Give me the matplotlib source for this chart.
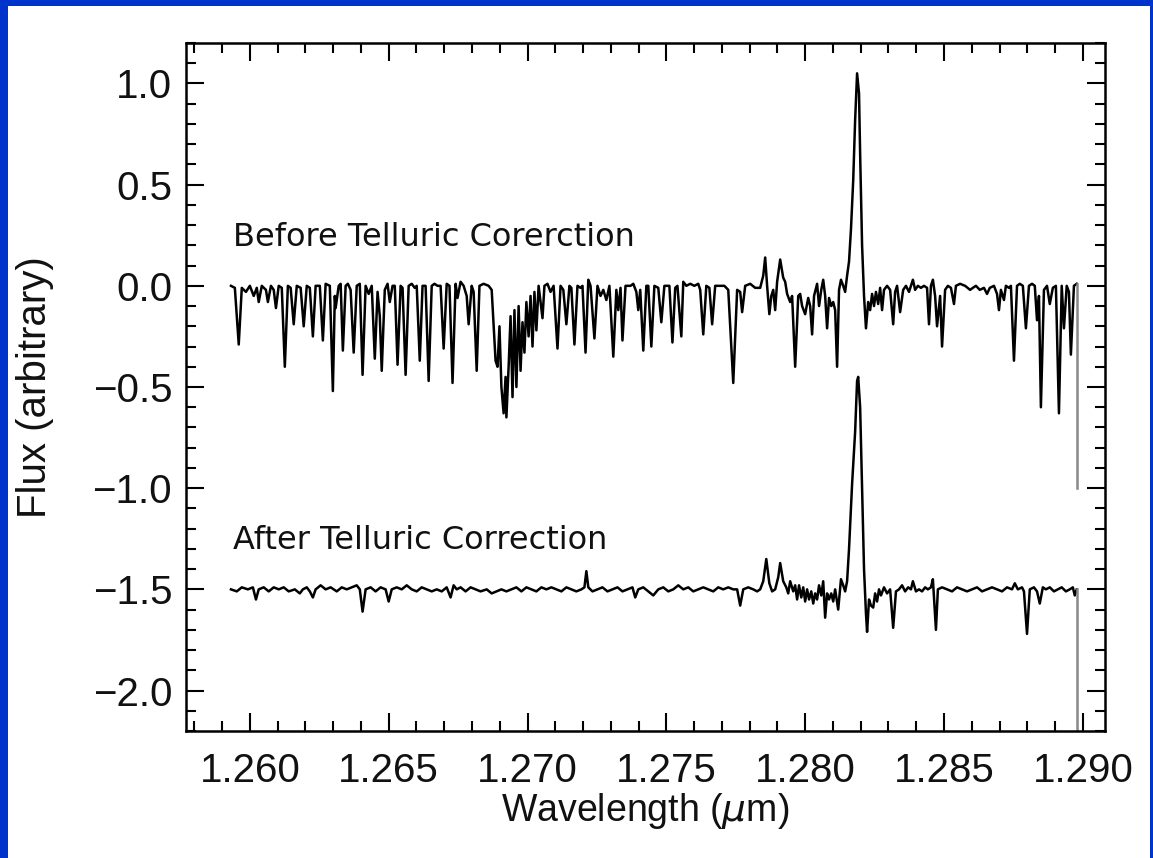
import matplotlib
matplotlib.use('Agg')
import matplotlib.pyplot as plt
from matplotlib.patches import Rectangle
from matplotlib.ticker import MultipleLocator

# spectrum before telluric correction (wavelength in micron, flux)
wl_before = [
    1.25932, 1.25946, 1.25960, 1.25971, 1.25986, 1.26000, 1.26014, 1.26025, 1.26032, 1.26043,
    1.26058, 1.26065, 1.26076, 1.26086, 1.26094, 1.26104, 1.26115, 1.26126, 1.26137, 1.26147,
    1.26158, 1.26169, 1.26183, 1.26194, 1.26205, 1.26216, 1.26227, 1.26237, 1.26252, 1.26263,
    1.26273, 1.26288, 1.26299, 1.26306, 1.26309, 1.26320, 1.26327, 1.26335, 1.26345, 1.26353,
    1.26363, 1.26374, 1.26385, 1.26396, 1.26406, 1.26417, 1.26428, 1.26439, 1.26450, 1.26460,
    1.26468, 1.26475, 1.26486, 1.26496, 1.26504, 1.26514, 1.26522, 1.26532, 1.26543, 1.26550,
    1.26561, 1.26572, 1.26583, 1.26594, 1.26601, 1.26612, 1.26622, 1.26633, 1.26644, 1.26655,
    1.26665, 1.26676, 1.26687, 1.26698, 1.26709, 1.26719, 1.26730, 1.26741, 1.26748, 1.26759,
    1.26770, 1.26781, 1.26788, 1.26799, 1.26806, 1.26817, 1.26827, 1.26842, 1.26860, 1.26871,
    1.26878, 1.26885, 1.26892, 1.26899, 1.26906, 1.26914, 1.26921, 1.26924, 1.26932, 1.26939,
    1.26946, 1.26953, 1.26960, 1.26968, 1.26975, 1.26982, 1.26989, 1.26996, 1.27004, 1.27011,
    1.27018, 1.27025, 1.27032, 1.27040, 1.27047, 1.27054, 1.27061, 1.27072, 1.27083, 1.27094,
    1.27108, 1.27119, 1.27129, 1.27140, 1.27151, 1.27158, 1.27169, 1.27180, 1.27191, 1.27198,
    1.27209, 1.27219, 1.27227, 1.27241, 1.27252, 1.27263, 1.27273, 1.27284, 1.27295, 1.27309,
    1.27320, 1.27327, 1.27335, 1.27342, 1.27353, 1.27371, 1.27381, 1.27392, 1.27399, 1.27406,
    1.27417, 1.27428, 1.27435, 1.27446, 1.27457, 1.27471, 1.27482, 1.27493, 1.27504, 1.27511,
    1.27522, 1.27532, 1.27540, 1.27554, 1.27561, 1.27572, 1.27586, 1.27601, 1.27615, 1.27622,
    1.27633, 1.27644, 1.27655, 1.27665, 1.27676, 1.27694, 1.27709, 1.27723, 1.27741, 1.27755,
    1.27766, 1.27773, 1.27784, 1.27802, 1.27820, 1.27838, 1.27849, 1.27856, 1.27863, 1.27871,
    1.27878, 1.27885, 1.27892, 1.27899, 1.27910, 1.27921, 1.27928, 1.27935, 1.27946, 1.27953,
    1.27964, 1.27975, 1.27982, 1.27989, 1.28000, 1.28011, 1.28018, 1.28025, 1.28032, 1.28043,
    1.28050, 1.28058, 1.28065, 1.28072, 1.28079, 1.28086, 1.28094, 1.28101, 1.28108, 1.28115,
    1.28122, 1.28129, 1.28137, 1.28144, 1.28151, 1.28158, 1.28165, 1.28173, 1.28180, 1.28187,
    1.28194, 1.28198, 1.28205, 1.28212, 1.28219, 1.28227, 1.28234, 1.28241, 1.28248, 1.28255,
    1.28263, 1.28270, 1.28277, 1.28284, 1.28295, 1.28306, 1.28317, 1.28324, 1.28331, 1.28342,
    1.28353, 1.28363, 1.28374, 1.28381, 1.28388, 1.28396, 1.28406, 1.28417, 1.28428, 1.28439,
    1.28446, 1.28453, 1.28460, 1.28468, 1.28475, 1.28486, 1.28493, 1.28504, 1.28514, 1.28525,
    1.28536, 1.28543, 1.28558, 1.28576, 1.28594, 1.28604, 1.28615, 1.28629, 1.28644, 1.28655,
    1.28665, 1.28680, 1.28691, 1.28698, 1.28705, 1.28716, 1.28723, 1.28734, 1.28741, 1.28752,
    1.28763, 1.28773, 1.28784, 1.28795, 1.28806, 1.28817, 1.28827, 1.28835, 1.28842, 1.28849,
    1.28860, 1.28871, 1.28881, 1.28892, 1.28903, 1.28914, 1.28924, 1.28932, 1.28942, 1.28950,
    1.28957, 1.28968, 1.28978,
]
flux_before = [
    0.00, -0.01, -0.29, -0.01, -0.03, 0.00, -0.05, -0.01, -0.08, 0.00,
    -0.02, -0.08, 0.00, -0.02, -0.11, 0.00, -0.01, -0.40, 0.00, -0.01,
    -0.19, 0.00, -0.01, -0.20, 0.00, -0.01, -0.25, 0.00, 0.00, -0.27,
    0.01, 0.00, -0.52, -0.05, -0.11, 0.00, 0.01, -0.32, 0.00, 0.01,
    -0.02, -0.33, 0.00, 0.01, -0.44, 0.00, -0.04, 0.00, -0.36, -0.03,
    -0.15, -0.42, -0.02, 0.01, -0.08, 0.00, 0.00, -0.39, 0.00, -0.01,
    -0.44, 0.00, 0.01, -0.01, 0.00, -0.37, 0.00, 0.00, -0.47, 0.00,
    0.01, 0.00, 0.00, -0.31, 0.01, 0.00, -0.48, 0.01, -0.06, 0.02,
    0.00, -0.05, -0.19, 0.00, -0.03, -0.42, 0.00, 0.01, 0.00, -0.02,
    -0.20, -0.37, -0.40, -0.20, -0.50, -0.63, -0.45, -0.65, -0.40, -0.15,
    -0.55, -0.12, -0.50, -0.10, -0.42, -0.18, -0.33, -0.08, -0.25, -0.05,
    -0.30, -0.03, -0.22, 0.00, -0.08, -0.16, 0.00, 0.01, -0.03, 0.00,
    -0.31, 0.00, -0.02, -0.19, 0.00, -0.01, -0.29, 0.00, -0.01, 0.00,
    -0.33, 0.03, 0.00, -0.26, 0.00, -0.05, -0.02, -0.07, 0.00, -0.35,
    -0.02, -0.12, -0.01, -0.27, 0.00, 0.00, 0.01, -0.03, -0.12, -0.02,
    -0.32, 0.00, 0.00, -0.30, 0.00, -0.01, -0.18, 0.00, 0.00, 0.00,
    -0.28, -0.01, 0.00, -0.25, 0.02, 0.00, 0.01, 0.00, 0.01, -0.02,
    -0.24, 0.00, -0.01, -0.19, 0.00, 0.00, 0.00, -0.02, -0.48, -0.02,
    -0.03, -0.13, 0.00, 0.01, -0.01, -0.01, 0.05, 0.14, 0.00, -0.14,
    -0.05, -0.02, -0.12, 0.02, 0.13, 0.04, 0.02, -0.04, -0.08, -0.05,
    -0.40, -0.05, -0.04, -0.10, -0.14, -0.06, -0.10, -0.24, -0.05, 0.01,
    -0.10, -0.02, 0.03, -0.05, -0.21, -0.06, -0.10, -0.08, -0.12, -0.40,
    -0.02, 0.03, 0.00, -0.03, 0.05, 0.12, 0.28, 0.52, 0.82, 1.05,
    0.95, 0.65, 0.20, -0.05, -0.21, -0.08, -0.12, -0.04, -0.10, -0.03,
    -0.09, -0.01, -0.12, -0.02, 0.00, -0.02, -0.19, -0.03, 0.00, -0.13,
    -0.02, 0.00, -0.03, 0.00, 0.03, -0.02, 0.00, -0.01, 0.00, -0.01,
    -0.19, 0.00, 0.03, -0.05, -0.20, -0.05, -0.30, -0.02, 0.00, -0.01,
    -0.09, 0.00, 0.01, 0.00, -0.02, -0.01, 0.00, -0.02, -0.01, -0.04,
    -0.01, 0.00, -0.04, -0.12, -0.02, -0.07, 0.00, -0.01, 0.00, -0.37,
    0.00, 0.01, 0.00, -0.21, 0.00, 0.01, 0.00, -0.17, -0.05, -0.60,
    -0.02, 0.00, -0.09, -0.01, 0.00, -0.63, 0.00, -0.21, 0.00, -0.03,
    -0.34, 0.00, 0.01,
]
# last column of the "before" spectrum (drawn gray)
wl_before_end = [1.28978, 1.28978]
flux_before_end = [0.01, -1.00]

# spectrum after telluric correction
wl_after = [
    1.25932, 1.25953, 1.25971, 1.25993, 1.26011, 1.26022, 1.26032, 1.26050, 1.26068, 1.26086,
    1.26104, 1.26122, 1.26140, 1.26162, 1.26180, 1.26191, 1.26205, 1.26216, 1.26227, 1.26237,
    1.26255, 1.26273, 1.26291, 1.26313, 1.26331, 1.26349, 1.26367, 1.26385, 1.26396, 1.26406,
    1.26417, 1.26435, 1.26453, 1.26471, 1.26489, 1.26500, 1.26511, 1.26529, 1.26547, 1.26565,
    1.26583, 1.26601, 1.26619, 1.26637, 1.26655, 1.26673, 1.26691, 1.26709, 1.26723, 1.26734,
    1.26745, 1.26759, 1.26777, 1.26795, 1.26813, 1.26831, 1.26853, 1.26871, 1.26888, 1.26906,
    1.26924, 1.26942, 1.26960, 1.26978, 1.26996, 1.27014, 1.27032, 1.27050, 1.27068, 1.27086,
    1.27104, 1.27122, 1.27140, 1.27158, 1.27176, 1.27194, 1.27205, 1.27212, 1.27219, 1.27234,
    1.27252, 1.27270, 1.27288, 1.27306, 1.27324, 1.27342, 1.27360, 1.27378, 1.27388, 1.27399,
    1.27417, 1.27435, 1.27453, 1.27471, 1.27489, 1.27507, 1.27525, 1.27543, 1.27561, 1.27579,
    1.27597, 1.27615, 1.27633, 1.27651, 1.27669, 1.27687, 1.27705, 1.27723, 1.27741, 1.27755,
    1.27766, 1.27777, 1.27795, 1.27813, 1.27827, 1.27838, 1.27849, 1.27860, 1.27871, 1.27881,
    1.27892, 1.27903, 1.27910, 1.27921, 1.27932, 1.27939, 1.27946, 1.27957, 1.27964, 1.27971,
    1.27978, 1.27986, 1.27993, 1.28000, 1.28007, 1.28014, 1.28022, 1.28029, 1.28036, 1.28043,
    1.28050, 1.28058, 1.28065, 1.28072, 1.28079, 1.28086, 1.28094, 1.28101, 1.28108, 1.28119,
    1.28129, 1.28137, 1.28144, 1.28151, 1.28158, 1.28169, 1.28180, 1.28187, 1.28191, 1.28198,
    1.28205, 1.28212, 1.28219, 1.28223, 1.28230, 1.28237, 1.28245, 1.28252, 1.28259, 1.28266,
    1.28273, 1.28284, 1.28295, 1.28306, 1.28317, 1.28327, 1.28338, 1.28349, 1.28360, 1.28371,
    1.28381, 1.28388, 1.28399, 1.28410, 1.28421, 1.28432, 1.28442, 1.28453, 1.28460, 1.28471,
    1.28478, 1.28493, 1.28511, 1.28529, 1.28547, 1.28565, 1.28583, 1.28601, 1.28619, 1.28637,
    1.28655, 1.28673, 1.28691, 1.28709, 1.28727, 1.28745, 1.28755, 1.28766, 1.28781, 1.28788,
    1.28799, 1.28809, 1.28824, 1.28835, 1.28845, 1.28856, 1.28867, 1.28881, 1.28896, 1.28910,
    1.28924, 1.28939, 1.28953, 1.28964, 1.28971, 1.28978,
]
flux_after = [
    -1.50, -1.51, -1.49, -1.50, -1.49, -1.55, -1.50, -1.49, -1.51, -1.49,
    -1.50, -1.49, -1.51, -1.50, -1.52, -1.50, -1.49, -1.51, -1.54, -1.50,
    -1.48, -1.50, -1.49, -1.51, -1.49, -1.50, -1.49, -1.48, -1.50, -1.61,
    -1.50, -1.49, -1.51, -1.49, -1.50, -1.56, -1.50, -1.49, -1.50, -1.48,
    -1.50, -1.51, -1.49, -1.50, -1.51, -1.50, -1.51, -1.49, -1.54, -1.48,
    -1.50, -1.49, -1.51, -1.49, -1.50, -1.51, -1.50, -1.52, -1.51, -1.50,
    -1.51, -1.50, -1.49, -1.51, -1.49, -1.50, -1.51, -1.49, -1.50, -1.49,
    -1.50, -1.51, -1.49, -1.50, -1.51, -1.50, -1.49, -1.41, -1.49, -1.51,
    -1.50, -1.49, -1.51, -1.50, -1.49, -1.51, -1.50, -1.49, -1.54, -1.50,
    -1.49, -1.51, -1.53, -1.50, -1.49, -1.51, -1.50, -1.48, -1.50, -1.49,
    -1.51, -1.50, -1.49, -1.50, -1.51, -1.49, -1.50, -1.49, -1.50, -1.50,
    -1.58, -1.50, -1.49, -1.50, -1.51, -1.50, -1.46, -1.35, -1.47, -1.51,
    -1.50, -1.44, -1.37, -1.46, -1.49, -1.52, -1.46, -1.51, -1.48, -1.55,
    -1.48, -1.54, -1.49, -1.56, -1.50, -1.55, -1.51, -1.57, -1.52, -1.55,
    -1.48, -1.53, -1.46, -1.64, -1.52, -1.55, -1.52, -1.56, -1.50, -1.60,
    -1.45, -1.48, -1.51, -1.46, -1.30, -0.98, -0.72, -0.47, -0.45, -0.60,
    -1.00, -1.40, -1.62, -1.71, -1.55, -1.58, -1.59, -1.52, -1.56, -1.50,
    -1.53, -1.49, -1.52, -1.50, -1.69, -1.51, -1.50, -1.48, -1.51, -1.49,
    -1.50, -1.46, -1.51, -1.50, -1.51, -1.49, -1.50, -1.49, -1.45, -1.70,
    -1.50, -1.49, -1.50, -1.51, -1.49, -1.50, -1.51, -1.50, -1.49, -1.51,
    -1.50, -1.49, -1.50, -1.51, -1.49, -1.50, -1.47, -1.50, -1.49, -1.51,
    -1.72, -1.50, -1.49, -1.51, -1.57, -1.49, -1.50, -1.49, -1.51, -1.50,
    -1.49, -1.51, -1.50, -1.49, -1.53, -1.50,
]
wl_after_end = [1.28978, 1.28978]
flux_after_end = [-1.50, -2.40]

label_before = 'Before Telluric Corerction'
label_after = 'After Telluric Correction'

plt.rcParams['font.family'] = ['Liberation Sans', 'DejaVu Sans']

fig = plt.figure(figsize=(11.53, 8.58), dpi=100)
fig.patch.set_facecolor('#0033cc')
# white panel inside the blue frame
fig.patches.append(Rectangle((8 / 1153, 0), 1142 / 1153, 852 / 858,
                             transform=fig.transFigure, facecolor='white',
                             edgecolor='none', zorder=-10))

ax = fig.add_axes([0.1613, 0.148, 0.7971, 0.8019])
ax.set_zorder(5)
ax.plot(wl_before, flux_before, color='black', lw=1.8)
ax.plot(wl_before_end, flux_before_end, color='#888888', lw=1.8)
ax.plot(wl_after, flux_after, color='black', lw=1.8)
ax.plot(wl_after_end, flux_after_end, color='#888888', lw=1.8)

ax.text(1.25939, 0.24, label_before, fontsize=23, family='DejaVu Sans',
        ha='left', va='center', color='#111111')
ax.text(1.25939, -1.26, label_after, fontsize=23, family='DejaVu Sans',
        ha='left', va='center', color='#111111')

ax.set_xlim(1.2577, 1.2908)
ax.set_ylim(-2.2, 1.2)
ax.xaxis.set_major_locator(MultipleLocator(0.005))
ax.xaxis.set_minor_locator(MultipleLocator(0.001))
ax.yaxis.set_major_locator(MultipleLocator(0.5))
ax.yaxis.set_minor_locator(MultipleLocator(0.1))
ax.xaxis.set_major_formatter(matplotlib.ticker.FormatStrFormatter('%.3f'))
ax.yaxis.set_major_formatter(matplotlib.ticker.FuncFormatter(
    lambda v, p: ('%.1f' % v).replace('-', '\u2212')))

ax.tick_params(which='both', direction='in', top=True, right=True,
               width=1.5, labelsize=29, labelcolor='#111111')
ax.tick_params(which='major', length=13)
ax.tick_params(which='minor', length=7)
ax.tick_params(axis='x', pad=15)
ax.tick_params(axis='y', pad=10)
for s in ax.spines.values():
    s.set_linewidth(1.8)

ax.set_xlabel('Wavelength ($\\mu$m)', fontsize=27, labelpad=1, color='#111111')
ax.set_ylabel('Flux (arbitrary)', fontsize=29, labelpad=28, color='#111111')

fig.savefig('out.png', dpi=100, facecolor=fig.get_facecolor())
